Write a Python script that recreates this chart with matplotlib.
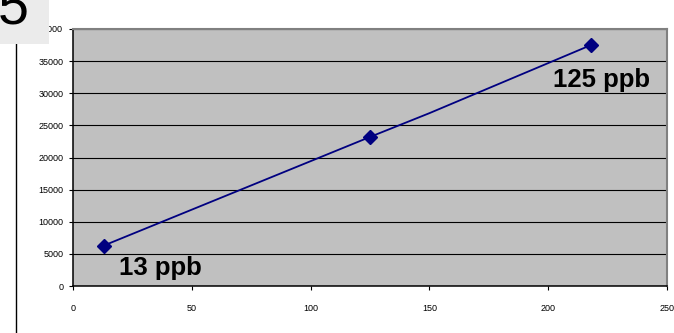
import matplotlib
matplotlib.use("Agg")
import matplotlib.pyplot as plt
from matplotlib.patches import Rectangle
from matplotlib.lines import Line2D

plt.rcParams['font.family'] = ['Liberation Sans', 'DejaVu Sans']

# concentration (ppb) vs. detector response
conc = [13, 125, 150, 218]
signal = [6300, 23200, 26900, 37500]
marked = [0, 1, 3]

labels = ["13 ppb", "125 ppb"]
label_pos = [(19.5, 1700), (202, 31000)]

fig = plt.figure(figsize=(6.74, 3.33), dpi=100)
ax = fig.add_axes([73 / 674, 1 - 286 / 333, (667 - 73) / 674, (286 - 29) / 333])
ax.set_facecolor('#C0C0C0')

ax.plot(conc, signal, color='#000080', lw=1.3, marker='D', markersize=7.5,
        markevery=marked, zorder=3)

for txt, (x, y) in zip(labels, label_pos):
    ax.text(x, y, txt, fontsize=18.5, fontweight='bold', ha='left', va='baseline',
            color='black', zorder=4)

ax.set_xlim(0, 250)
ax.set_ylim(0, 40000)
ax.set_xticks(range(0, 251, 50))
ax.set_yticks(range(0, 40001, 5000))
ax.yaxis.grid(True, color='black', lw=0.8)
ax.set_axisbelow(True)

ax.tick_params(axis='both', direction='out', length=3, width=0.8, labelsize=6.5)
ax.tick_params(axis='x', pad=10)
ax.tick_params(axis='y', pad=4)

ax.spines['left'].set_color('black')
ax.spines['bottom'].set_color('black')
ax.spines['left'].set_linewidth(1.1)
ax.spines['bottom'].set_linewidth(1.1)
for side in ('top', 'right'):
    ax.spines[side].set_color('#808080')
    ax.spines[side].set_linewidth(1.5)

# slide-number box and left rule
fig.patches.append(Rectangle((0, 1 - 44 / 333), 49 / 674, 44 / 333,
                             transform=fig.transFigure, facecolor='#EBEBEB',
                             edgecolor='none', zorder=10))
fig.text(-2 / 674, 1 - 23 / 333, "5", fontsize=40, ha='left', va='baseline',
         color='black', zorder=11)
fig.lines.append(Line2D([16 / 674, 16 / 674], [0, 1 - 44 / 333],
                        transform=fig.transFigure, color='black', lw=1.0))

fig.savefig('out.png', dpi=100)
